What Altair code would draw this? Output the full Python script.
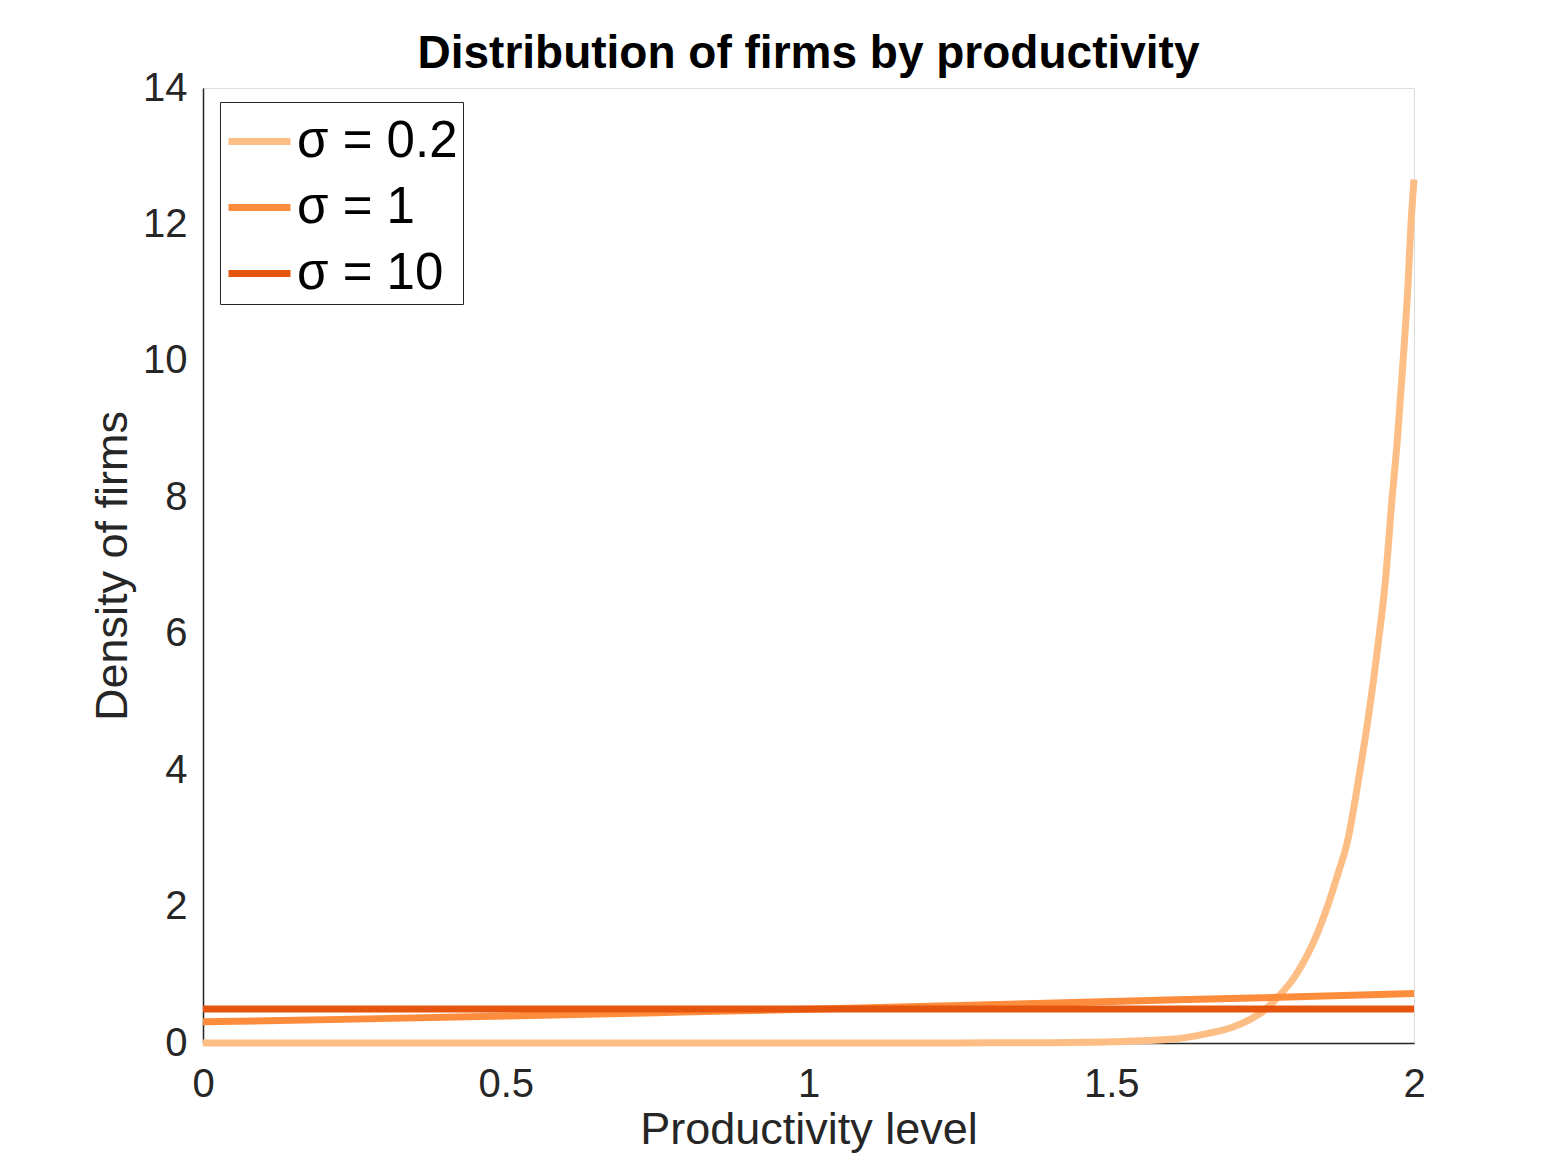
import altair as alt
import pandas as pd

# ---- data ----
labels = ["σ = 0.2", "σ = 1", "σ = 10"]
colors = ["#fdbe85", "#fd8d3c", "#e6550d"]

x_s02 = [0.0, 0.25, 0.5, 0.75, 1.0, 1.2, 1.3, 1.4, 1.5, 1.56, 1.62, 1.66, 1.70,
         1.73, 1.75, 1.775, 1.805, 1.84, 1.857, 1.875, 1.89, 1.91, 1.925, 1.94,
         1.953, 1.963, 1.973, 1.982, 1.99, 1.995, 2.0]
y_s02 = [0.0, 0.0, 0.0, 0.0, 0.0, 0.001, 0.002, 0.005, 0.017, 0.035, 0.075, 0.14,
         0.23, 0.35, 0.46, 0.67, 1.0, 1.6, 2.0, 2.5, 2.95, 3.95, 4.8, 5.8, 6.8,
         7.9, 8.9, 10.0, 11.1, 12.0, 12.66]

x_s1 = [0.0, 0.25, 0.5, 0.75, 1.0, 1.25, 1.5, 1.75, 2.0]
y_s1 = [0.31, 0.35, 0.395, 0.445, 0.495, 0.55, 0.61, 0.665, 0.725]

x_s10 = [0.0, 0.5, 1.0, 1.5, 2.0]
y_s10 = [0.5, 0.5, 0.5, 0.5, 0.5]

x_ticks = [0, 0.5, 1, 1.5, 2]
y_ticks = [0, 2, 4, 6, 8, 10, 12, 14]

rows = []
for k, (xs, ys) in enumerate([(x_s02, y_s02), (x_s1, y_s1), (x_s10, y_s10)]):
    for i, (a, b) in enumerate(zip(xs, ys)):
        rows.append({"x": a, "y": b, "sigma": labels[k], "k": k, "i": i})
df = pd.DataFrame(rows)

FONT = "Liberation Sans"
AX = "#262626"

chart = (
    alt.Chart(df)
    .mark_line(strokeWidth=7, clip=False, interpolate="monotone")
    .encode(
        x=alt.X(
            "x:Q",
            scale=alt.Scale(domain=[0, 2], nice=False, zero=False),
            axis=alt.Axis(
                values=x_ticks, format="~g", grid=False, ticks=False,
                labelFontSize=40, labelFont=FONT, labelColor=AX, labelPadding=21,
                title="Productivity level", titleFontSize=45, titleFont=FONT,
                titleFontWeight="normal", titleColor=AX, titleBaseline="alphabetic",
                titleY=100, domainColor=AX, domainWidth=1.5, labelFlush=False,
            ),
        ),
        y=alt.Y(
            "y:Q",
            scale=alt.Scale(domain=[0, 14], nice=False),
            axis=alt.Axis(
                values=y_ticks, format="~g", grid=False, ticks=False,
                labelFontSize=40, labelFont=FONT, labelColor=AX, labelPadding=16,
                title="Density of firms", titleFontSize=45, titleFont=FONT,
                titleFontWeight="normal", titleColor=AX, titleBaseline="alphabetic",
                titleX=-77, domainColor=AX, domainWidth=1.5, labelFlush=False,
            ),
        ),
        color=alt.Color(
            "sigma:N",
            scale=alt.Scale(domain=labels, range=colors),
            sort=labels,
            legend=alt.Legend(
                title=None, orient="none", legendX=17, legendY=14,
                padding=5, strokeColor=AX, fillColor="white",
                symbolType="stroke", symbolStrokeWidth=7, symbolSize=3844,
                labelFontSize=51, labelFont=FONT, labelColor="black",
                labelOffset=3, rowPadding=6, labelLimit=400,
            ),
        ),
        detail="k:N",
        order="i:Q",
    )
    .properties(
        width=1211,
        height=955,
        title=alt.TitleParams(
            "Distribution of firms by productivity",
            fontSize=46, fontWeight="bold", font=FONT, color="black",
            anchor="middle", baseline="alphabetic", frame="group", offset=20,
            dy=66,
        ),
        autosize=alt.AutoSizeParams(type="none"),
        padding={"left": 195, "top": 80, "right": 140, "bottom": 110},
    )
    .configure_view(stroke=AX, strokeWidth=1.5)
    .configure(background="white")
)

chart.save("out.html", embed_options={"renderer": "svg", "actions": False})
